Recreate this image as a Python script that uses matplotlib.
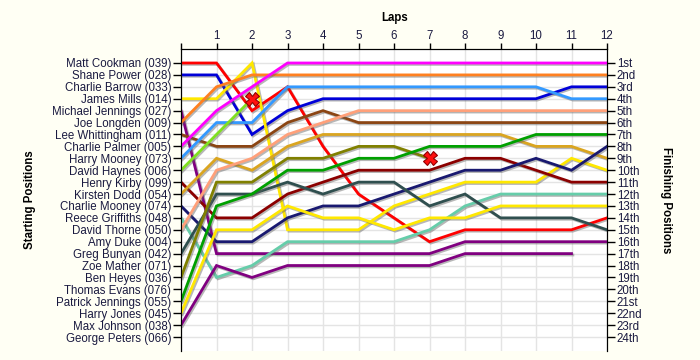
import matplotlib
matplotlib.use("Agg")
import matplotlib.pyplot as plt
import matplotlib.patheffects as pe
import numpy as np

laps = list(range(13))
lap_labels = ["", "1", "2", "3", "4", "5", "6", "7", "8", "9", "10", "11", "12"]

start_names = [
    "Matt Cookman (039)", "Shane Power (028)", "Charlie Barrow (033)", "James Mills (014)",
    "Michael Jennings (027)", "Joe Longden (009)", "Lee Whittingham (011)", "Charlie Palmer (005)",
    "Harry Mooney (073)", "David Haynes (006)", "Henry Kirby (099)", "Kirsten Dodd (054)",
    "Charlie Mooney (074)", "Reece Griffiths (048)", "David Thorne (050)", "Amy Duke (004)",
    "Greg Bunyan (042)", "Zoe Mather (071)", "Ben Heyes (036)", "Thomas Evans (076)",
    "Patrick Jennings (055)", "Harry Jones (045)", "Max Johnson (038)", "George Peters (066)",
]
finish_labels = [
    "1st", "2nd", "3rd", "4th", "5th", "6th", "7th", "8th", "9th", "10th", "11th", "12th",
    "13th", "14th", "15th", "16th", "17th", "18th", "19th", "20th", "21st", "22nd", "23rd", "24th",
]

# positions per lap (lap 0 = starting position)
cookman     = [1, 1, 5, 3, 8, 12, 14, 16, 15, 15, 15, 15, 14]
power       = [2, 2, 7, 5, 4, 4, 4, 4, 4, 4, 4, 3, 3]
mills       = [4, 4, 1, 15, 15, 15, 13, 12, 11, 11, 11, 9, 10]
m_jennings  = [5, 17, 17, 17, 17, 17, 17, 17, 16, 16, 16, 16, 16]
longden     = [6, 3, 2, 2, 2, 2, 2, 2, 2, 2, 2, 2, 2]
whittingham = [7, 8, 8, 6, 5, 6, 6, 6, 6, 6, 6, 6, 6]
palmer      = [8, 5, 3, 1, 1, 1, 1, 1, 1, 1, 1, 1, 1]
h_mooney    = [9, 6, 6, 3, 3, 3, 3, 3, 3, 3, 3, 4, 4]
haynes      = [10, 7, 4]
kirby       = [11, 14, 14, 12, 11, 10, 10, 10, 9, 9, 10, 11, 11]
dodd        = [12, 9, 10, 8, 7, 7, 7, 7, 7, 7, 8, 8, 9]
c_mooney    = [13, 16, 16, 14, 13, 13, 12, 11, 10, 10, 9, 10, 8]
griffiths   = [14, 19, 18, 16, 16, 16, 16, 15, 13, 12, 12, 12, 12]
thorne      = [15, 10, 9, 7, 6, 5, 5, 5, 5, 5, 5, 5, 5]
bunyan      = [17, 12, 12, 11, 12, 11, 11, 13, 12, 14, 14, 14, 15]
heyes       = [19, 11, 11, 9, 9, 8, 8, 9]
p_jennings  = [21, 13, 12, 10, 10, 9, 9, 8, 8, 8, 7, 7, 7]
jones       = [22, 15, 15, 13, 14, 14, 15, 14, 14, 13, 13, 13, 13]
johnson     = [23, 18, 19, 18, 18, 18, 18, 18, 17, 17, 17, 17]

series = [
    (cookman, "#FF0000", False), (power, "#0000D8", False), (mills, "#FFE800", False),
    (m_jennings, "#800080", False), (longden, "#FF8020", False), (whittingham, "#8B4513", False),
    (palmer, "#FF00FF", False), (h_mooney, "#3399FF", False), (haynes, "#80E020", True),
    (kirby, "#8B0000", False), (dodd, "#DAA520", False), (c_mooney, "#191970", False),
    (griffiths, "#66CDAA", False), (thorne, "#FFA07A", False), (bunyan, "#2F4F4F", False),
    (heyes, "#808000", True), (p_jennings, "#00A000", False), (jones, "#FFE800", False),
    (johnson, "#800080", False),
]

plt.rcParams["font.family"] = ["Liberation Sans", "DejaVu Sans"]
text_color = "#1A1A40"
fs = 8.3

fig = plt.figure(figsize=(7, 3.6), dpi=100, facecolor="#FFFFF4")
ax = fig.add_axes([181 / 700, (360 - 351) / 360, (607 - 181) / 700, (351 - 49) / 360])
ax.set_facecolor("white")

shadow = [pe.SimpleLineShadow(offset=(1, -1), shadow_color="#606060", alpha=0.45), pe.Normal()]
for vals, col, retired in series:
    xs = laps[:len(vals)]
    ax.plot(xs, vals, color=col, lw=2.0, solid_joinstyle="miter", path_effects=shadow, zorder=3)
    if retired:
        ax.plot(xs[-1], vals[-1], marker="X", markersize=10, color="#FF1010",
                markeredgecolor="#900000", markeredgewidth=0.8, zorder=5)

ax.set_xlim(0, 12)
ax.set_ylim(25.175, -0.175)

ax.set_xticks(laps)
ax.set_xticklabels(lap_labels, fontsize=fs, color=text_color)
ax.xaxis.tick_top()
ax.tick_params(axis="x", direction="out", length=4, width=1, pad=1, colors="black", labelcolor=text_color)

pos = list(range(1, 25))
ax.set_yticks(pos)
ax.set_yticklabels(start_names, fontsize=fs, color=text_color)
ax.tick_params(axis="y", direction="out", length=6, width=1, pad=1, colors="black", labelcolor=text_color)

ax2 = ax.twinx()
ax2.set_ylim(ax.get_ylim())
ax2.set_yticks(pos)
ax2.set_yticklabels(finish_labels, fontsize=fs, color=text_color)
ax2.tick_params(axis="y", direction="out", length=6, width=1, pad=1, colors="black", labelcolor=text_color)

ax.grid(True, color="#E4E4E4", lw=1, zorder=0)
ax.set_axisbelow(True)
for a in (ax, ax2):
    a.spines["bottom"].set_visible(False)
    a.spines["top"].set_color("black")
    a.spines["left"].set_color("black")
    a.spines["right"].set_color("black")

fig.text(395 / 700, 1 - 18 / 360, "Laps", ha="center", va="center", fontsize=fs, fontweight="bold")
fig.text(30 / 700, 1 - 200 / 360, "Starting Positions", ha="center", va="center", rotation=90,
         fontsize=fs, fontweight="bold")
fig.text(666 / 700, 1 - 200 / 360, "Finishing Positions", ha="center", va="center", rotation=-90,
         fontsize=fs, fontweight="bold")

fig.savefig("out.png", dpi=100, facecolor=fig.get_facecolor())
